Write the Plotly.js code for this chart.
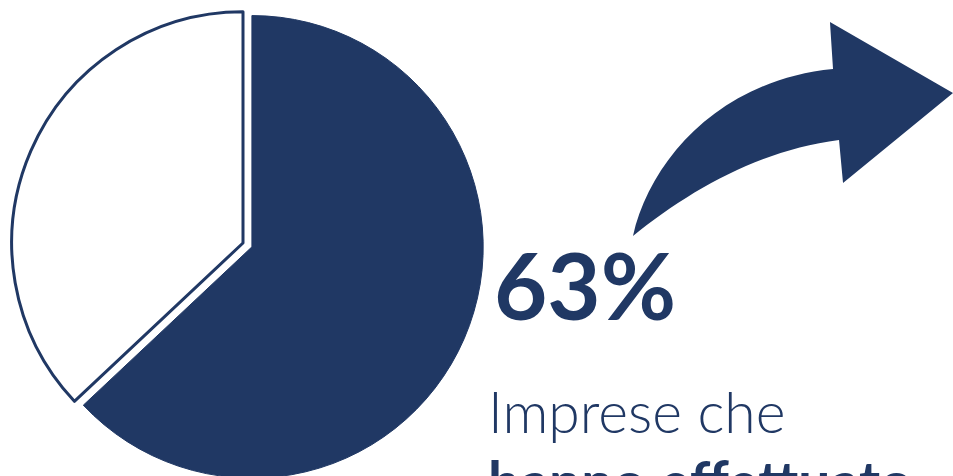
<!DOCTYPE html>
<html>
<head>
<meta charset="utf-8">
<script src="https://cdn.plot.ly/plotly-3.0.1.min.js"></script>
<style>
html, body { margin: 0; padding: 0; overflow: hidden; background: #ffffff; }
#chart { width: 953px; height: 500px; }
</style>
</head>
<body>
<div id="chart"></div>
<script>
// ---- data ----
const sliceLabels = ["Hanno effettuato", "Non hanno effettuato"];
const sliceValues = [63, 37];
const headline = "63%";
const captionLine1 = "Imprese che";
const captionLine2 = "hanno effettuato";

// ---- style ----
const NAVY = "#203864";
const W = 953, H = 500;
const px = (x) => x / W;
const py = (y) => (H - y) / H;

// decorative curved arrow (pixel outline converted to paper coords)
function P(x, y) { return px(x).toFixed(4) + "," + py(y).toFixed(4); }
const arrowPath =
  "M " + P(633, 236) +
  " C " + P(650, 160) + " " + P(720, 80) + " " + P(833, 69) +
  " L " + P(830, 22) +
  " L " + P(953, 93) +
  " L " + P(843, 183) +
  " L " + P(839, 140) +
  " C " + P(760, 150) + " " + P(690, 190) + " " + P(633, 236) + " Z";

const trace = {
  type: "pie",
  labels: sliceLabels,
  values: sliceValues,
  sort: false,
  direction: "clockwise",
  rotation: 0,
  pull: [0.042, 0],
  textinfo: "none",
  hoverinfo: "label+percent",
  marker: {
    colors: [NAVY, "#ffffff"],
    line: { color: [NAVY, NAVY], width: [1, 3] }
  },
  domain: { x: [px(2), px(484)], y: [py(484), py(2)] },
  showlegend: false
};

const layout = {
  width: W,
  height: H,
  margin: { l: 0, r: 0, t: 0, b: 0 },
  paper_bgcolor: "#ffffff",
  plot_bgcolor: "#ffffff",
  showlegend: false,
  shapes: [{
    type: "path",
    xref: "paper", yref: "paper",
    path: arrowPath,
    fillcolor: NAVY,
    line: { width: 0 }
  }],
  annotations: [
    {
      text: headline, xref: "paper", yref: "paper",
      x: px(492), y: py(284), xanchor: "left", yanchor: "middle",
      showarrow: false,
      font: { family: "Lato, 'Open Sans', sans-serif", size: 92, color: NAVY, weight: 700 }
    },
    {
      text: captionLine1, xref: "paper", yref: "paper",
      x: px(486), y: py(411), xanchor: "left", yanchor: "middle",
      showarrow: false,
      font: { family: "Lato, 'Open Sans', sans-serif", size: 57, color: NAVY, weight: 300 }
    },
    {
      text: captionLine2, xref: "paper", yref: "paper",
      x: px(486), y: py(481), xanchor: "left", yanchor: "middle",
      showarrow: false,
      font: { family: "Lato, 'Open Sans', sans-serif", size: 57, color: NAVY, weight: 700 }
    }
  ]
};

Plotly.newPlot("chart", [trace], layout, { displayModeBar: false, staticPlot: true });
</script>
</body>
</html>
